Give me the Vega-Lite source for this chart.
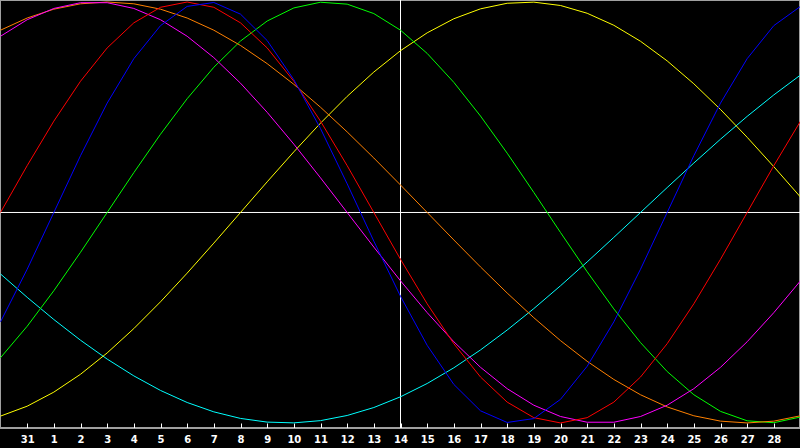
{
  "$schema": "https://vega.github.io/schema/vega-lite/v6.json",
  "width": 800,
  "height": 428,
  "autosize": {"type": "none"},
  "padding": {"left": 0, "top": 0, "right": 0, "bottom": 20},
  "background": "#000000",
  "config": {
    "view": {"stroke": "#a0a0a0", "strokeWidth": 2},
    "axisX": {
      "title": null,
      "grid": false,
      "domainColor": "#a0a0a0",
      "tickColor": "#ffffff",
      "tickSize": -5,
      "labelColor": "#ffffff",
      "labelFont": "DejaVu Sans",
      "labelFontSize": 10,
      "labelFontWeight": "bold",
      "labelPadding": 11,
      "labelFlush": false,
      "labelOverlap": false
    }
  },
  "datasets": {
    "bio": [
      {"s":"Spiritual","d":-1,"v":-0.2921},{"s":"Spiritual","d":0,"v":-0.4031},{"s":"Spiritual","d":1,"v":-0.5085},{"s":"Spiritual","d":2,"v":-0.6069},{"s":"Spiritual","d":3,"v":-0.6966},{"s":"Spiritual","d":4,"v":-0.7764},{"s":"Spiritual","d":5,"v":-0.8456},{"s":"Spiritual","d":6,"v":-0.9028},{"s":"Spiritual","d":7,"v":-0.9473},{"s":"Spiritual","d":8,"v":-0.9785},{"s":"Spiritual","d":9,"v":-0.9960},{"s":"Spiritual","d":10,"v":-0.9996},{"s":"Spiritual","d":11,"v":-0.9890},{"s":"Spiritual","d":12,"v":-0.9646},{"s":"Spiritual","d":13,"v":-0.9267},{"s":"Spiritual","d":14,"v":-0.8757},{"s":"Spiritual","d":15,"v":-0.8126},{"s":"Spiritual","d":16,"v":-0.7380},{"s":"Spiritual","d":17,"v":-0.6531},{"s":"Spiritual","d":18,"v":-0.5586},{"s":"Spiritual","d":19,"v":-0.4566},{"s":"Spiritual","d":20,"v":-0.3482},{"s":"Spiritual","d":21,"v":-0.2349},{"s":"Spiritual","d":22,"v":-0.1183},{"s":"Spiritual","d":23,"v":0},{"s":"Spiritual","d":24,"v":0.1183},{"s":"Spiritual","d":25,"v":0.2349},{"s":"Spiritual","d":26,"v":0.3482},{"s":"Spiritual","d":27,"v":0.4566},{"s":"Spiritual","d":28,"v":0.5586},{"s":"Spiritual","d":29,"v":0.6531},
      {"s":"Aesthetic","d":-1,"v":-0.9675},{"s":"Aesthetic","d":0,"v":-0.9204},{"s":"Aesthetic","d":1,"v":-0.8535},{"s":"Aesthetic","d":2,"v":-0.7687},{"s":"Aesthetic","d":3,"v":-0.6673},{"s":"Aesthetic","d":4,"v":-0.5517},{"s":"Aesthetic","d":5,"v":-0.4244},{"s":"Aesthetic","d":6,"v":-0.2881},{"s":"Aesthetic","d":7,"v":-0.1456},{"s":"Aesthetic","d":8,"v":0},{"s":"Aesthetic","d":9,"v":0.1456},{"s":"Aesthetic","d":10,"v":0.2881},{"s":"Aesthetic","d":11,"v":0.4244},{"s":"Aesthetic","d":12,"v":0.5517},{"s":"Aesthetic","d":13,"v":0.6673},{"s":"Aesthetic","d":14,"v":0.7687},{"s":"Aesthetic","d":15,"v":0.8535},{"s":"Aesthetic","d":16,"v":0.9204},{"s":"Aesthetic","d":17,"v":0.9675},{"s":"Aesthetic","d":18,"v":0.9940},{"s":"Aesthetic","d":19,"v":0.9993},{"s":"Aesthetic","d":20,"v":0.9834},{"s":"Aesthetic","d":21,"v":0.9465},{"s":"Aesthetic","d":22,"v":0.8894},{"s":"Aesthetic","d":23,"v":0.8135},{"s":"Aesthetic","d":24,"v":0.7202},{"s":"Aesthetic","d":25,"v":0.6113},{"s":"Aesthetic","d":26,"v":0.4894},{"s":"Aesthetic","d":27,"v":0.3572},{"s":"Aesthetic","d":28,"v":0.2174},{"s":"Aesthetic","d":29,"v":0.0730},
      {"s":"Intellectual","d":-1,"v":-0.6901},{"s":"Intellectual","d":0,"v":-0.5406},{"s":"Intellectual","d":1,"v":-0.3717},{"s":"Intellectual","d":2,"v":-0.1893},{"s":"Intellectual","d":3,"v":0},{"s":"Intellectual","d":4,"v":0.1893},{"s":"Intellectual","d":5,"v":0.3717},{"s":"Intellectual","d":6,"v":0.5406},{"s":"Intellectual","d":7,"v":0.6901},{"s":"Intellectual","d":8,"v":0.8146},{"s":"Intellectual","d":9,"v":0.9096},{"s":"Intellectual","d":10,"v":0.9718},{"s":"Intellectual","d":11,"v":0.9989},{"s":"Intellectual","d":12,"v":0.9898},{"s":"Intellectual","d":13,"v":0.9450},{"s":"Intellectual","d":14,"v":0.8660},{"s":"Intellectual","d":15,"v":0.7557},{"s":"Intellectual","d":16,"v":0.6182},{"s":"Intellectual","d":17,"v":0.4582},{"s":"Intellectual","d":18,"v":0.2817},{"s":"Intellectual","d":19,"v":0.0951},{"s":"Intellectual","d":20,"v":-0.0951},{"s":"Intellectual","d":21,"v":-0.2817},{"s":"Intellectual","d":22,"v":-0.4582},{"s":"Intellectual","d":23,"v":-0.6182},{"s":"Intellectual","d":24,"v":-0.7557},{"s":"Intellectual","d":25,"v":-0.8660},{"s":"Intellectual","d":26,"v":-0.9450},{"s":"Intellectual","d":27,"v":-0.9898},{"s":"Intellectual","d":28,"v":-0.9989},{"s":"Intellectual","d":29,"v":-0.9718},
      {"s":"Awareness","d":-1,"v":0.8660},{"s":"Awareness","d":0,"v":0.9239},{"s":"Awareness","d":1,"v":0.9659},{"s":"Awareness","d":2,"v":0.9914},{"s":"Awareness","d":3,"v":1},{"s":"Awareness","d":4,"v":0.9914},{"s":"Awareness","d":5,"v":0.9659},{"s":"Awareness","d":6,"v":0.9239},{"s":"Awareness","d":7,"v":0.8660},{"s":"Awareness","d":8,"v":0.7934},{"s":"Awareness","d":9,"v":0.7071},{"s":"Awareness","d":10,"v":0.6088},{"s":"Awareness","d":11,"v":0.5},{"s":"Awareness","d":12,"v":0.3827},{"s":"Awareness","d":13,"v":0.2588},{"s":"Awareness","d":14,"v":0.1305},{"s":"Awareness","d":15,"v":0},{"s":"Awareness","d":16,"v":-0.1305},{"s":"Awareness","d":17,"v":-0.2588},{"s":"Awareness","d":18,"v":-0.3827},{"s":"Awareness","d":19,"v":-0.5},{"s":"Awareness","d":20,"v":-0.6088},{"s":"Awareness","d":21,"v":-0.7071},{"s":"Awareness","d":22,"v":-0.7934},{"s":"Awareness","d":23,"v":-0.8660},{"s":"Awareness","d":24,"v":-0.9239},{"s":"Awareness","d":25,"v":-0.9659},{"s":"Awareness","d":26,"v":-0.9914},{"s":"Awareness","d":27,"v":-1},{"s":"Awareness","d":28,"v":-0.9914},{"s":"Awareness","d":29,"v":-0.9659},
      {"s":"Intuitive","d":-1,"v":0.8372},{"s":"Intuitive","d":0,"v":0.9158},{"s":"Intuitive","d":1,"v":0.9694},{"s":"Intuitive","d":2,"v":0.9966},{"s":"Intuitive","d":3,"v":0.9966},{"s":"Intuitive","d":4,"v":0.9694},{"s":"Intuitive","d":5,"v":0.9158},{"s":"Intuitive","d":6,"v":0.8372},{"s":"Intuitive","d":7,"v":0.7357},{"s":"Intuitive","d":8,"v":0.6142},{"s":"Intuitive","d":9,"v":0.4759},{"s":"Intuitive","d":10,"v":0.3247},{"s":"Intuitive","d":11,"v":0.1646},{"s":"Intuitive","d":12,"v":0},{"s":"Intuitive","d":13,"v":-0.1646},{"s":"Intuitive","d":14,"v":-0.3247},{"s":"Intuitive","d":15,"v":-0.4759},{"s":"Intuitive","d":16,"v":-0.6142},{"s":"Intuitive","d":17,"v":-0.7357},{"s":"Intuitive","d":18,"v":-0.8372},{"s":"Intuitive","d":19,"v":-0.9158},{"s":"Intuitive","d":20,"v":-0.9694},{"s":"Intuitive","d":21,"v":-0.9966},{"s":"Intuitive","d":22,"v":-0.9966},{"s":"Intuitive","d":23,"v":-0.9694},{"s":"Intuitive","d":24,"v":-0.9158},{"s":"Intuitive","d":25,"v":-0.8372},{"s":"Intuitive","d":26,"v":-0.7357},{"s":"Intuitive","d":27,"v":-0.6142},{"s":"Intuitive","d":28,"v":-0.4759},{"s":"Intuitive","d":29,"v":-0.3247},
      {"s":"Emotional","d":-1,"v":0},{"s":"Emotional","d":0,"v":0.2225},{"s":"Emotional","d":1,"v":0.4339},{"s":"Emotional","d":2,"v":0.6235},{"s":"Emotional","d":3,"v":0.7818},{"s":"Emotional","d":4,"v":0.9010},{"s":"Emotional","d":5,"v":0.9749},{"s":"Emotional","d":6,"v":1},{"s":"Emotional","d":7,"v":0.9749},{"s":"Emotional","d":8,"v":0.9010},{"s":"Emotional","d":9,"v":0.7818},{"s":"Emotional","d":10,"v":0.6235},{"s":"Emotional","d":11,"v":0.4339},{"s":"Emotional","d":12,"v":0.2225},{"s":"Emotional","d":13,"v":0},{"s":"Emotional","d":14,"v":-0.2225},{"s":"Emotional","d":15,"v":-0.4339},{"s":"Emotional","d":16,"v":-0.6235},{"s":"Emotional","d":17,"v":-0.7818},{"s":"Emotional","d":18,"v":-0.9010},{"s":"Emotional","d":19,"v":-0.9749},{"s":"Emotional","d":20,"v":-1},{"s":"Emotional","d":21,"v":-0.9749},{"s":"Emotional","d":22,"v":-0.9010},{"s":"Emotional","d":23,"v":-0.7818},{"s":"Emotional","d":24,"v":-0.6235},{"s":"Emotional","d":25,"v":-0.4339},{"s":"Emotional","d":26,"v":-0.2225},{"s":"Emotional","d":27,"v":0},{"s":"Emotional","d":28,"v":0.2225},{"s":"Emotional","d":29,"v":0.4339},
      {"s":"Physical","d":-1,"v":-0.5196},{"s":"Physical","d":0,"v":-0.2698},{"s":"Physical","d":1,"v":0},{"s":"Physical","d":2,"v":0.2698},{"s":"Physical","d":3,"v":0.5196},{"s":"Physical","d":4,"v":0.7308},{"s":"Physical","d":5,"v":0.8879},{"s":"Physical","d":6,"v":0.9791},{"s":"Physical","d":7,"v":0.9977},{"s":"Physical","d":8,"v":0.9423},{"s":"Physical","d":9,"v":0.8170},{"s":"Physical","d":10,"v":0.6311},{"s":"Physical","d":11,"v":0.3984},{"s":"Physical","d":12,"v":0.1362},{"s":"Physical","d":13,"v":-0.1362},{"s":"Physical","d":14,"v":-0.3984},{"s":"Physical","d":15,"v":-0.6311},{"s":"Physical","d":16,"v":-0.8170},{"s":"Physical","d":17,"v":-0.9423},{"s":"Physical","d":18,"v":-0.9977},{"s":"Physical","d":19,"v":-0.9791},{"s":"Physical","d":20,"v":-0.8879},{"s":"Physical","d":21,"v":-0.7308},{"s":"Physical","d":22,"v":-0.5196},{"s":"Physical","d":23,"v":-0.2698},{"s":"Physical","d":24,"v":0},{"s":"Physical","d":25,"v":0.2698},{"s":"Physical","d":26,"v":0.5196},{"s":"Physical","d":27,"v":0.7308},{"s":"Physical","d":28,"v":0.8879},{"s":"Physical","d":29,"v":0.9791}
    ]
  },
  "layer": [
    {
      "data": {"values": [{"v": 0}]},
      "mark": {"type": "rule", "color": "#ffffff", "strokeWidth": 1},
      "encoding": {
        "y": {"field": "v", "type": "quantitative", "scale": {"domain": [-1.024, 1.0095], "nice": false, "zero": false}, "axis": null}
      }
    },
    {
      "data": {"values": [{"d": 14}]},
      "mark": {"type": "rule", "color": "#ffffff", "strokeWidth": 1},
      "encoding": {
        "x": {
          "field": "d",
          "type": "quantitative",
          "scale": {"domain": [-1.01875, 28.98125], "nice": false, "zero": false},
          "axis": {
            "values": [0,1,2,3,4,5,6,7,8,9,10,11,12,13,14,15,16,17,18,19,20,21,22,23,24,25,26,27,28],
            "labelExpr": "datum.value == 0 ? '31' : datum.label"
          }
        }
      }
    },
    {
      "data": {"name": "bio"},
      "mark": {"type": "line", "strokeWidth": 1, "clip": true},
      "encoding": {
        "x": {
          "field": "d",
          "type": "quantitative",
          "scale": {"domain": [-1.01875, 28.98125], "nice": false, "zero": false},
          "axis": {
            "values": [0,1,2,3,4,5,6,7,8,9,10,11,12,13,14,15,16,17,18,19,20,21,22,23,24,25,26,27,28],
            "labelExpr": "datum.value == 0 ? '31' : datum.label"
          }
        },
        "y": {"field": "v", "type": "quantitative", "scale": {"domain": [-1.024, 1.0095], "nice": false, "zero": false}, "axis": null},
        "color": {
          "field": "s",
          "type": "nominal",
          "scale": {
            "domain": ["Spiritual", "Aesthetic", "Intellectual", "Awareness", "Intuitive", "Emotional", "Physical"],
            "range": ["#00ffff", "#ffff00", "#00ff00", "#ff8000", "#ff00ff", "#ff0000", "#0000ff"]
          },
          "legend": null
        },
        "order": {"field": "d", "type": "quantitative"}
      }
    }
  ]
}
